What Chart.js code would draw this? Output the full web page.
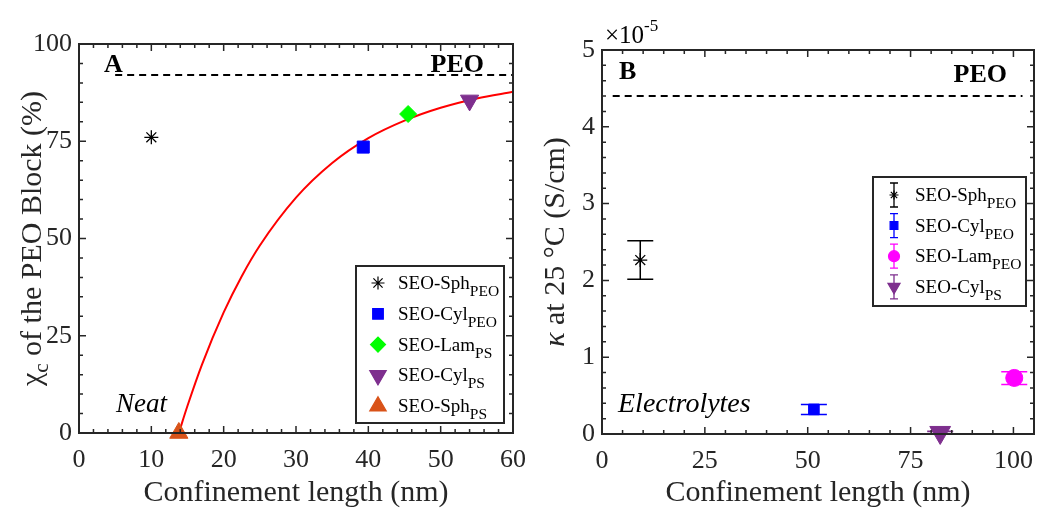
<!DOCTYPE html>
<html>
<head>
<meta charset="utf-8">
<script src="https://cdn.jsdelivr.net/npm/chart.js@4.4.0/dist/chart.umd.min.js"></script>
<style>
  html, body { margin: 0; padding: 0; background: #fff; }
  #wrap { position: relative; width: 1037px; height: 510px; }
  canvas { position: absolute; top: 0; }
  #chartA { left: 0; }
  #chartB { left: 520px; }
</style>
</head>
<body>
<div id="wrap">
  <canvas id="chartA" width="540" height="510"></canvas>
  <canvas id="chartB" width="517" height="510"></canvas>
</div>
<script>
const SERIF = "'Liberation Serif', 'Times New Roman', serif";
const AXIS_COLOR = '#262626';

// ---- Panel A: crystallinity of the PEO block, neat copolymers ----
const namesA = ['SEO-Sph', 'SEO-Cyl', 'SEO-Lam', 'SEO-Cyl', 'SEO-Sph'];
const subsA = ['PEO', 'PEO', 'PS', 'PS', 'PS'];
const lengthA = [10, 39.3, 45.5, 54, 13.8];      // nm
const crystA = [76, 73.5, 82, 85.5, 0];          // %
// red fit curve
const fitLengthA = [13.8, 15, 17, 20, 22.5, 25, 30, 35, 40, 45, 50, 55, 60];
const fitCrystA = [0, 7, 17.6, 31, 40.3, 48.2, 60.5, 69.4, 75.8, 80.3, 83.6, 86, 87.7];
// homopolymer PEO reference (dashed)
const peoLengthA = [5, 60];
const peoCrystA = [92, 92];
const xTicksA = [0, 10, 20, 30, 40, 50, 60];
const yTicksA = [0, 25, 50, 75, 100];

// ---- Panel B: conductivity at 25 C, electrolytes (x 1e-5 S/cm) ----
const namesB = ['SEO-Sph', 'SEO-Cyl', 'SEO-Lam', 'SEO-Cyl'];
const subsB = ['PEO', 'PEO', 'PEO', 'PS'];
const lengthB = [9.3, 51.5, 100.2, 82.2];
const kappaB = [2.265, 0.32, 0.73, 0.02];
const kappaLowB = [2.015, 0.255, 0.645, 0.005];
const kappaHighB = [2.515, 0.385, 0.81, 0.035];
const peoLengthB = [2.6, 102.2];
const peoKappaB = [4.4, 4.4];
const xTicksB = [0, 25, 50, 75, 100];
const yTicksB = [0, 1, 2, 3, 4, 5];

// marker styles
const colorsA = ['#000000', '#0000FF', '#00FF00', '#7E2F8E', '#D95319'];
const stylesA = ['star', 'rect', 'rectRot', 'triangle', 'triangle'];
const rotA = [0, 0, 0, 180, 0];
const radiusA = [7, 8.5, 8.5, 10.5, 10.5];
const colorsB = ['#000000', '#0000FF', '#FF00FF', '#7E2F8E'];
const stylesB = ['star', 'rect', 'circle', 'triangle'];
const rotB = [0, 0, 0, 180];
const radiusB = [7, 7.5, 8.5, 12];
const legendRadiusB = [4.5, 5.5, 5.5, 7];

const f = (size, style) => `${style || ''} ${size}px ${SERIF}`;

function runsWidth(ctx, runs) {
    let w = 0;
    runs.forEach(r => { ctx.font = r.font; w += ctx.measureText(r.text).width; });
    return w;
}

function drawRuns(ctx, runs, x, y) {
    runs.forEach(r => {
        ctx.font = r.font;
        ctx.fillText(r.text, x, y + (r.dy || 0));
        x += ctx.measureText(r.text).width;
    });
}

// frame, inward ticks, titles, labels, legend and error bars
const framePlugin = {
    id: 'frame',
    beforeDatasetsDraw(chart, args, opts) {
        const eb = opts.errorBars;
        if (!eb) return;
        const { ctx, scales: { x, y } } = chart;
        ctx.save();
        ctx.lineWidth = 1.5;
        eb.xs.forEach((xv, i) => {
            const px = x.getPixelForValue(xv);
            const lo = y.getPixelForValue(eb.lows[i]);
            const hi = y.getPixelForValue(eb.highs[i]);
            ctx.strokeStyle = eb.colors[i];
            ctx.beginPath();
            ctx.moveTo(px, lo); ctx.lineTo(px, hi);
            ctx.moveTo(px - eb.cap, lo); ctx.lineTo(px + eb.cap, lo);
            ctx.moveTo(px - eb.cap, hi); ctx.lineTo(px + eb.cap, hi);
            ctx.stroke();
        });
        ctx.restore();
    },
    afterDraw(chart, args, opts) {
        const { ctx, chartArea: a, scales: { x, y } } = chart;
        ctx.save();

        // inward ticks on all four sides
        ctx.strokeStyle = AXIS_COLOR;
        ctx.lineWidth = 1.5;
        ctx.beginPath();
        for (let v = x.min; v <= x.max + 1e-9; v += opts.minorX) {
            const px = x.getPixelForValue(v);
            const len = opts.xTicks.some(t => Math.abs(t - v) < 1e-6) ? 7 : 4;
            ctx.moveTo(px, a.bottom); ctx.lineTo(px, a.bottom - len);
            ctx.moveTo(px, a.top); ctx.lineTo(px, a.top + len);
        }
        for (let v = y.min; v <= y.max + 1e-9; v += opts.minorY) {
            const py = y.getPixelForValue(v);
            const len = opts.yTicks.some(t => Math.abs(t - v) < 1e-6) ? 7 : 4;
            ctx.moveTo(a.left, py); ctx.lineTo(a.left + len, py);
            ctx.moveTo(a.right, py); ctx.lineTo(a.right - len, py);
        }
        ctx.stroke();

        ctx.lineWidth = 2;
        ctx.strokeRect(a.left, a.top, a.right - a.left, a.bottom - a.top);

        // axis titles
        ctx.fillStyle = AXIS_COLOR;
        ctx.textBaseline = 'alphabetic';
        ctx.textAlign = 'left';
        const xt = opts.xTitle;
        drawRuns(ctx, xt, (a.left + a.right) / 2 - runsWidth(ctx, xt) / 2, opts.xTitleY);
        const yt = opts.yTitle;
        const w = runsWidth(ctx, yt);
        ctx.save();
        ctx.translate(opts.yTitleX, (a.top + a.bottom) / 2 + (opts.yTitleShift || 0));
        ctx.rotate(-Math.PI / 2);
        drawRuns(ctx, yt, -w / 2, 0);
        ctx.restore();

        // in-plot labels (right-aligned ones are shifted by their width)
        ctx.fillStyle = '#000';
        opts.labels.forEach(l => {
            drawRuns(ctx, l.runs, l.align === 'right' ? l.x - runsWidth(ctx, l.runs) : l.x, l.y);
        });

        // legend
        const lg = opts.legend;
        ctx.fillStyle = '#fff';
        ctx.fillRect(lg.box[0], lg.box[1], lg.box[2] - lg.box[0], lg.box[3] - lg.box[1]);
        ctx.strokeStyle = AXIS_COLOR;
        ctx.lineWidth = 2;
        ctx.strokeRect(lg.box[0], lg.box[1], lg.box[2] - lg.box[0], lg.box[3] - lg.box[1]);
        lg.entries.forEach((e, i) => {
            const yy = lg.y0 + i * lg.dy;
            ctx.strokeStyle = e.color;
            ctx.fillStyle = e.color;
            if (lg.errorBars) {
                ctx.lineWidth = 1.3;
                ctx.beginPath();
                ctx.moveTo(lg.markerX, yy - 12); ctx.lineTo(lg.markerX, yy + 12);
                ctx.moveTo(lg.markerX - 4, yy - 12); ctx.lineTo(lg.markerX + 4, yy - 12);
                ctx.moveTo(lg.markerX - 4, yy + 12); ctx.lineTo(lg.markerX + 4, yy + 12);
                ctx.stroke();
            }
            ctx.lineWidth = 1.2;
            Chart.helpers.drawPoint(ctx, {
                pointStyle: e.style, rotation: e.rot, radius: e.radius, borderWidth: 1
            }, lg.markerX, yy);
            ctx.fillStyle = '#000';
            drawRuns(ctx, [
                { text: e.name, font: f(19) },
                { text: e.sub, font: f(15.5), dy: 7 }
            ], lg.textX, yy + 6);
        });
        ctx.restore();
    }
};

function tickFont(size) {
    return { family: SERIF, size: size };
}

function makeChart(id, datasets, xr, yr, layout, frame) {
    return new Chart(document.getElementById(id), {
        type: 'scatter',
        data: { datasets: datasets },
        options: {
            responsive: false,
            animation: false,
            layout: { padding: layout.padding, autoPadding: false },
            plugins: { legend: { display: false }, tooltip: { enabled: false }, frame: frame },
            scales: {
                x: {
                    type: 'linear', min: xr.min, max: xr.max,
                    afterBuildTicks: s => { s.ticks = xr.ticks.map(v => ({ value: v })); },
                    afterFit: s => {
                        s.height = layout.xHeight;
                        s.paddingLeft = 0;
                        s.paddingRight = 0;
                    },
                    grid: { display: false, drawTicks: false },
                    border: { display: false },
                    ticks: { font: tickFont(26), color: AXIS_COLOR, padding: 12, maxRotation: 0, autoSkip: false }
                },
                y: {
                    type: 'linear', min: yr.min, max: yr.max,
                    afterBuildTicks: s => { s.ticks = yr.ticks.map(v => ({ value: v })); },
                    afterFit: s => {
                        s.width = layout.yWidth;
                        s.paddingTop = 0;
                        s.paddingBottom = 0;
                    },
                    grid: { display: false, drawTicks: false },
                    border: { display: false },
                    ticks: { font: tickFont(26), color: AXIS_COLOR, padding: 7, autoSkip: false }
                }
            }
        },
        plugins: [framePlugin]
    });
}

function markerSets(lengths, values, colors, styles, rots, radii) {
    return lengths.map((lx, i) => ({
        data: [{ x: lx, y: values[i] }],
        pointStyle: styles[i],
        pointRadius: radii[i],
        pointRotation: rots[i],
        backgroundColor: colors[i],
        borderColor: colors[i],
        borderWidth: styles[i] === 'star' ? 1.3 : 1,
        clip: false
    }));
}

function lineSet(xs, ys, color, dash) {
    return {
        data: xs.map((v, i) => ({ x: v, y: ys[i] })),
        showLine: true,
        pointRadius: 0,
        borderColor: color,
        borderWidth: 2,
        borderDash: dash || [],
        cubicInterpolationMode: 'monotone'
    };
}

// ---------- Panel A ----------
makeChart('chartA',
    markerSets(lengthA, crystA, colorsA, stylesA, rotA, radiusA).concat([
        lineSet(fitLengthA, fitCrystA, '#FF0000'),
        lineSet(peoLengthA, peoCrystA, '#000000', [7, 5])
    ]),
    { min: 0, max: 60, ticks: xTicksA },
    { min: 0, max: 100, ticks: yTicksA },
    { padding: { top: 44, right: 27, left: 0, bottom: 0 }, xHeight: 77, yWidth: 79 },
    {
        minorX: 2, minorY: 5, xTicks: xTicksA, yTicks: yTicksA,
        xTitle: [{ text: 'Confinement length (nm)', font: f(30) }],
        xTitleY: 501,
        yTitle: [
            { text: 'χ', font: f(30) },
            { text: 'c', font: f(21), dy: 7 },
            { text: ' of the PEO Block (%)', font: f(30) }
        ],
        yTitleX: 41,
        labels: [
            { runs: [{ text: 'A', font: f(26, 'bold') }], x: 104, y: 72 },
            { runs: [{ text: 'PEO', font: f(26, 'bold') }], x: 484, y: 72, align: 'right' },
            { runs: [{ text: 'Neat', font: f(27, 'italic') }], x: 116, y: 412 }
        ],
        legend: {
            box: [356, 266, 504, 423], markerX: 378, textX: 398, y0: 283, dy: 30.8,
            entries: namesA.map((n, i) => ({
                name: n, sub: subsA[i], color: colorsA[i], style: stylesA[i], rot: rotA[i],
                radius: stylesA[i] === 'star' ? 6.5 : radiusA[i] - 1
            }))
        }
    }
);

// ---------- Panel B ----------
makeChart('chartB',
    markerSets(lengthB, kappaB, colorsB, stylesB, rotB, radiusB).concat([
        lineSet(peoLengthB, peoKappaB, '#000000', [7, 5])
    ]),
    { min: 0, max: 105, ticks: xTicksB },
    { min: 0, max: 5, ticks: yTicksB },
    { padding: { top: 50, right: 3, left: 0, bottom: 0 }, xHeight: 76, yWidth: 82 },
    {
        minorX: 5, minorY: 0.2, xTicks: xTicksB, yTicks: yTicksB,
        xTitle: [{ text: 'Confinement length (nm)', font: f(30) }],
        xTitleY: 501,
        yTitle: [
            { text: 'κ', font: f(30, 'italic') },
            { text: ' at 25 °C (S/cm)', font: f(30) }
        ],
        yTitleX: 44,
        labels: [
            { runs: [{ text: 'B', font: f(26, 'bold') }], x: 99, y: 79 },
            { runs: [{ text: 'PEO', font: f(26, 'bold') }], x: 487, y: 82, align: 'right' },
            { runs: [{ text: 'Electrolytes', font: f(28, 'italic') }], x: 98, y: 412 },
            { runs: [{ text: '×10', font: f(25) }, { text: '-5', font: f(17), dy: -12 }], x: 85, y: 43 }
        ],
        errorBars: { xs: lengthB, lows: kappaLowB, highs: kappaHighB, colors: colorsB, cap: 13 },
        legend: {
            box: [353, 177, 506, 306], markerX: 374, textX: 395, y0: 195, dy: 30.6, errorBars: true,
            entries: namesB.map((n, i) => ({
                name: n, sub: subsB[i], color: colorsB[i], style: stylesB[i], rot: rotB[i],
                radius: legendRadiusB[i]
            }))
        }
    }
);
</script>
</body>
</html>
